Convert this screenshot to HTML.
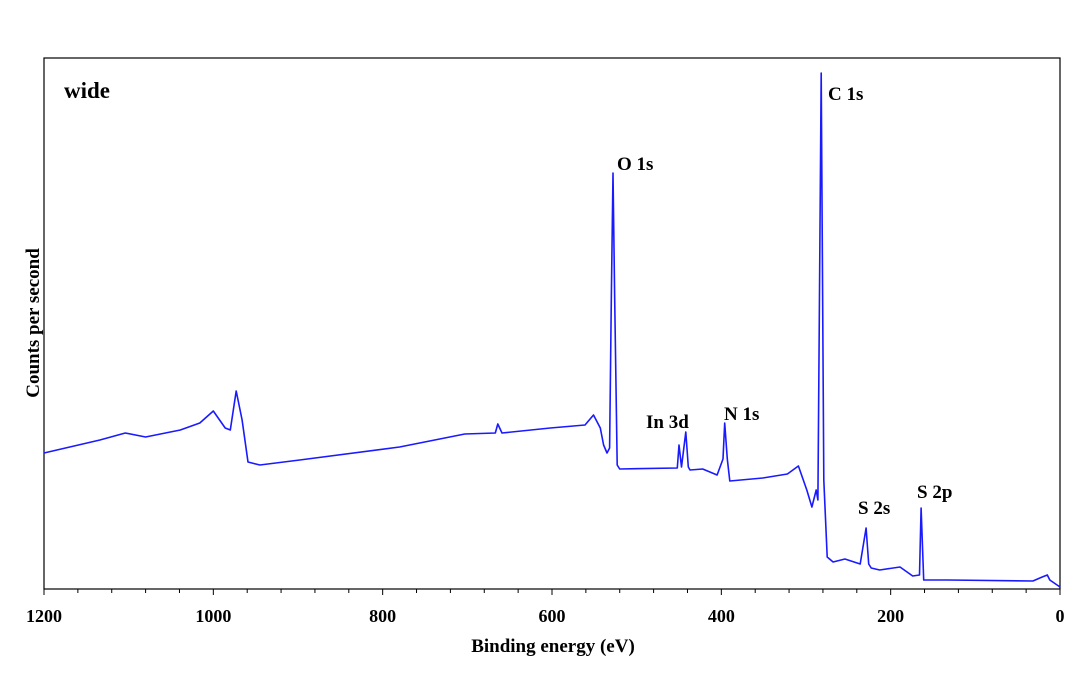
<!DOCTYPE html>
<html><head><meta charset="utf-8"><style>
body{margin:0;background:#fff}
svg text{font-family:"Liberation Serif",serif;font-weight:bold;fill:#000}
</style></head><body>
<svg id="chart" width="1080" height="674" viewBox="0 0 1080 674" xmlns="http://www.w3.org/2000/svg">
<rect x="44" y="58" width="1016" height="531" fill="none" stroke="#000" stroke-width="1.2"/>
<g id="ticks"></g>
<path id="spectrum" fill="none" stroke="#1a1aff" stroke-width="1.6" stroke-linejoin="round"/>
<text x="64" y="98" font-size="23">wide</text>
<text x="828" y="100" font-size="19">C 1s</text>
<text x="617" y="170" font-size="19">O 1s</text>
<text x="646" y="428" font-size="19">In 3d</text>
<text x="724" y="420" font-size="19">N 1s</text>
<text x="858" y="514" font-size="19">S 2s</text>
<text x="917" y="498" font-size="19">S 2p</text>
<text x="553" y="652" font-size="19" text-anchor="middle">Binding energy (eV)</text>
<text transform="translate(39,323) rotate(-90)" font-size="19" text-anchor="middle">Counts per second</text>
</svg>
<script>
const energy=[1200,1134,1104,1080,1039,1016,1000,986,980,973,966,959,945,898,780,703,667,664,659,602,561,551,543,539,535,532,530,528,526,523,520,452,450,447,442,439,437,422,405,398,396,393,390,351,322,309,299,293,288,286,282,279,275,268,254,236,229,226,223,213,189,174,166,164,161,133,32,21,15,12,0];
const counts=[136,149,156,152,159,166,178,161,159,198,169,127,124,129,142,155,156,165,156,161,164,174,161,144,136,141,289,516,289,124,120,121,144,122,157,122,119,120,114,130,166,130,108,111,115,123,99,82,99,89,516,109,32,27,30,25,61,25,21,19,22,13,14,81,9,9,8,12,14,9,2];
counts[27]=416;
const tickValues=[1200,1000,800,600,400,200,0];
const X0=44,X1=1060,Y0=589,Y1=58;
function xs(e){return X1-(e/1200)*(X1-X0);}
function ys(c){return Y0-(c/531)*(Y0-Y1);}
const svg=document.getElementById('chart');
const NS='http://www.w3.org/2000/svg';
let d='';
for(let i=0;i<energy.length;i++){d+=(i?'L':'M')+xs(energy[i]).toFixed(1)+' '+ys(counts[i]).toFixed(1);}
document.getElementById('spectrum').setAttribute('d',d);
const tg=document.getElementById('ticks');
for(let e=0;e<=1200;e+=40){
  const major=e%200===0;
  const l=document.createElementNS(NS,'line');
  
  
  l.setAttribute('x1',xs(e));l.setAttribute('x2',xs(e));
  l.setAttribute('y1',Y0);l.setAttribute('y2',Y0+(major?6:4));
  l.setAttribute('stroke','#000');l.setAttribute('stroke-width','1');
  tg.appendChild(l);
}
tickValues.forEach(v=>{
  const t=document.createElementNS(NS,'text');
  
  
  t.setAttribute('x',xs(v));t.setAttribute('y',622);
  t.setAttribute('font-size','18');t.setAttribute('text-anchor','middle');
  t.textContent=v;
  tg.appendChild(t);
});
</script>
</body></html>
